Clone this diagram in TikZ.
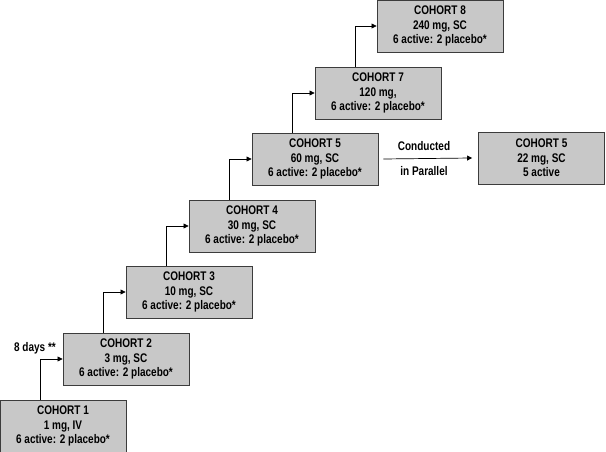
\documentclass[tikz,border=0pt]{standalone}
\usepackage{fontspec}
\setmainfont{Liberation Sans}[FakeStretch=0.8]
\usepackage{tikz}
\usetikzlibrary{
    positioning,
    arrows.meta
}
\definecolor{cohortgray}{RGB}{200,200,200}
\definecolor{cohortline}{RGB}{60,60,60}
\tikzset{
    >={Triangle[length=5pt,width=5pt]},
    cohort/.style={
        draw=cohortline,
        fill=cohortgray,
        line width=0.9pt,
        minimum width=126pt,
        minimum height=52pt,
        inner sep=0pt,
        align=center,
        font=\fontsize{12.5}{14.5}\selectfont\bfseries
    },
    elbow/.style={
        to path={|- (\tikztotarget)}
    },
    note/.style={
        font=\fontsize{12.5}{14.5}\selectfont\bfseries
    }
}

\begin{document}
\begin{tikzpicture}[
    x=1pt, y=1pt,
    line width=0.7pt
]
    \useasboundingbox (0,0) rectangle (606,452);

    % Cohortes
    \node[cohort] (c1) at (63,26)    {COHORT 1\\1 mg, IV\\6 active: 2 placebo*};
    \node[cohort] (c2) at (126,93)   {COHORT 2\\3 mg, SC\\6 active: 2 placebo*};
    \node[cohort] (c3) at (189,160)  {COHORT 3\\10 mg, SC\\6 active: 2 placebo*};
    \node[cohort] (c4) at (252,226)  {COHORT 4\\30 mg, SC\\6 active: 2 placebo*};
    \node[cohort] (c5) at (315,293)  {COHORT 5\\60 mg, SC\\6 active: 2 placebo*};
    \node[cohort] (c7) at (378,359)  {COHORT 7\\120 mg,\\6 active: 2 placebo*};
    \node[cohort] (c8) at (440,426)  {COHORT 8\\240 mg, SC\\6 active: 2 placebo*};

    % Cohorte en paralelo
    \node[cohort] (cp) at (541.5,294) {COHORT 5\\22 mg, SC\\5 active};

    % Textos
    \node[note] (days) at (35,104)   {8 days **};
    \node[note] (cond) at (424,306)  {Conducted};
    \node[note] (para) at (424,281)  {in Parallel};

    % Escalones
    \path[->]
        ([xshift=-23pt]c1.north) edge[elbow] (c2.west)
        ([xshift=-23pt]c2.north) edge[elbow] (c3.west)
        ([xshift=-23pt]c3.north) edge[elbow] (c4.west)
        ([xshift=-23pt]c4.north) edge[elbow] (c5.west)
        ([xshift=-23pt]c5.north) edge[elbow] (c7.west)
        ([xshift=-23pt]c7.north) edge[elbow] (c8.west)

        % En paralelo
        ([xshift=5pt]c5.east) edge ([xshift=-6pt]cp.west);

\end{tikzpicture}
\end{document}
